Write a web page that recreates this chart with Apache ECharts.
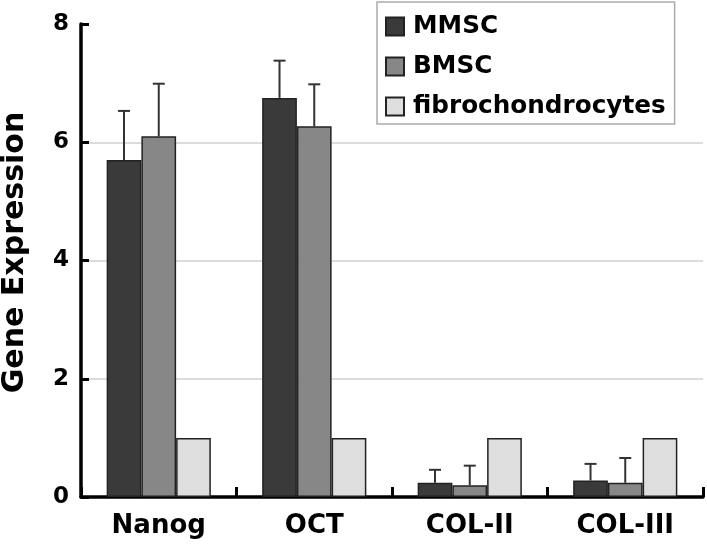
<!DOCTYPE html>
<html>
<head>
<meta charset="utf-8">
<script src="https://cdn.jsdelivr.net/npm/echarts@6/dist/echarts.min.js"></script>
<style>
html,body{margin:0;padding:0;background:#fff;}
#main{width:707px;height:547px;}
</style>
</head>
<body>
<div id="main"></div>
<script>
const categories = ['Nanog', 'OCT', 'COL-II', 'COL-III'];
const seriesNames = ['MMSC', 'BMSC', 'fibrochondrocytes'];
const mmsc = [5.70, 6.75, 0.24, 0.28];
const bmsc = [6.10, 6.27, 0.20, 0.24];
const fibro = [1.00, 1.00, 1.00, 1.00];
const mmscErr = [0.83, 0.63, 0.22, 0.28];
const bmscErr = [0.89, 0.71, 0.33, 0.42];
const yTicks = { min: 0, max: 8, interval: 2 };

const FONT = 'DejaVu Sans';
const CAT_GAP = 0.33;
const colors = ['#3a3a3a', '#878787', '#dedede'];

function errSeries(idx, values, errs) {
  return {
    type: 'custom',
    z: 5,
    silent: true,
    data: values.map((v, i) => [i, v, errs[i]]),
    renderItem: function (params, api) {
      const i = api.value(0), v = api.value(1), e = api.value(2);
      const catW = api.size([1, 0])[0];
      const bw = catW * (1 - CAT_GAP) / 3;
      const base = api.coord([i, v]);
      const top = api.coord([i, v + e]);
      const cx = base[0] + (idx - 1) * bw;
      const capHalf = 6;
      const style = { stroke: '#333', lineWidth: 2 };
      return {
        type: 'group',
        children: [
          { type: 'line', shape: { x1: cx, y1: base[1], x2: cx, y2: top[1] }, style: style },
          { type: 'line', shape: { x1: cx - capHalf, y1: top[1], x2: cx + capHalf, y2: top[1] }, style: style }
        ]
      };
    }
  };
}

const chart = echarts.init(document.getElementById('main'));
const barStyle = (c) => ({ color: c, borderColor: '#222', borderWidth: 1.5 });

chart.setOption({
  backgroundColor: '#fff',
  animation: false,
  textStyle: { fontFamily: FONT },
  grid: { left: 81, right: 4, top: 24, bottom: 50, containLabel: false, outerBoundsMode: 'none' },
  legend: {
    data: seriesNames,
    orient: 'vertical',
    left: 377, top: 2,
    padding: [12, 9, 5, 8],
    itemGap: 15,
    itemWidth: 18, itemHeight: 18,
    icon: 'rect',
    backgroundColor: '#fff',
    borderColor: '#aaa', borderWidth: 1.5,
    textStyle: { fontFamily: FONT, fontWeight: 'bold', fontSize: 24.7, color: '#000', lineHeight: 24, padding: [0, 0, 0, 4] }
  },
  xAxis: {
    type: 'category',
    data: categories,
    axisLine: { lineStyle: { color: '#000', width: 3.5 } },
    axisTick: { show: true, inside: true, length: 10, lineStyle: { color: '#000', width: 3 } },
    axisLabel: { fontFamily: FONT, fontWeight: 'bold', fontSize: 26, color: '#000', margin: 16 },
    splitLine: { show: false }
  },
  yAxis: {
    type: 'value',
    min: yTicks.min, max: yTicks.max, interval: yTicks.interval,
    name: 'Gene Expression',
    nameLocation: 'middle',
    nameGap: 51,
    nameTextStyle: { fontFamily: FONT, fontWeight: 'bold', fontSize: 30, color: '#000', padding: [0, 0, 0, 16] },
    axisLine: { show: true, lineStyle: { color: '#000', width: 3.5 } },
    axisTick: { show: true, inside: true, length: 8, lineStyle: { color: '#000', width: 3 } },
    axisLabel: { fontFamily: FONT, fontWeight: 'bold', fontSize: 23, color: '#000', margin: 12 },
    splitLine: { show: true, showMaxLine: false, lineStyle: { color: '#d0d0d0', width: 1.5 } }
  },
  series: [
    { name: seriesNames[0], type: 'bar', data: mmsc, itemStyle: barStyle(colors[0]), barGap: '0%', barCategoryGap: (CAT_GAP * 100) + '%' },
    { name: seriesNames[1], type: 'bar', data: bmsc, itemStyle: barStyle(colors[1]), barGap: '0%', barCategoryGap: (CAT_GAP * 100) + '%' },
    { name: seriesNames[2], type: 'bar', data: fibro, itemStyle: barStyle(colors[2]), barGap: '0%', barCategoryGap: (CAT_GAP * 100) + '%' },
    errSeries(0, mmsc, mmscErr),
    errSeries(1, bmsc, bmscErr)
  ]
});
</script>
</body>
</html>
